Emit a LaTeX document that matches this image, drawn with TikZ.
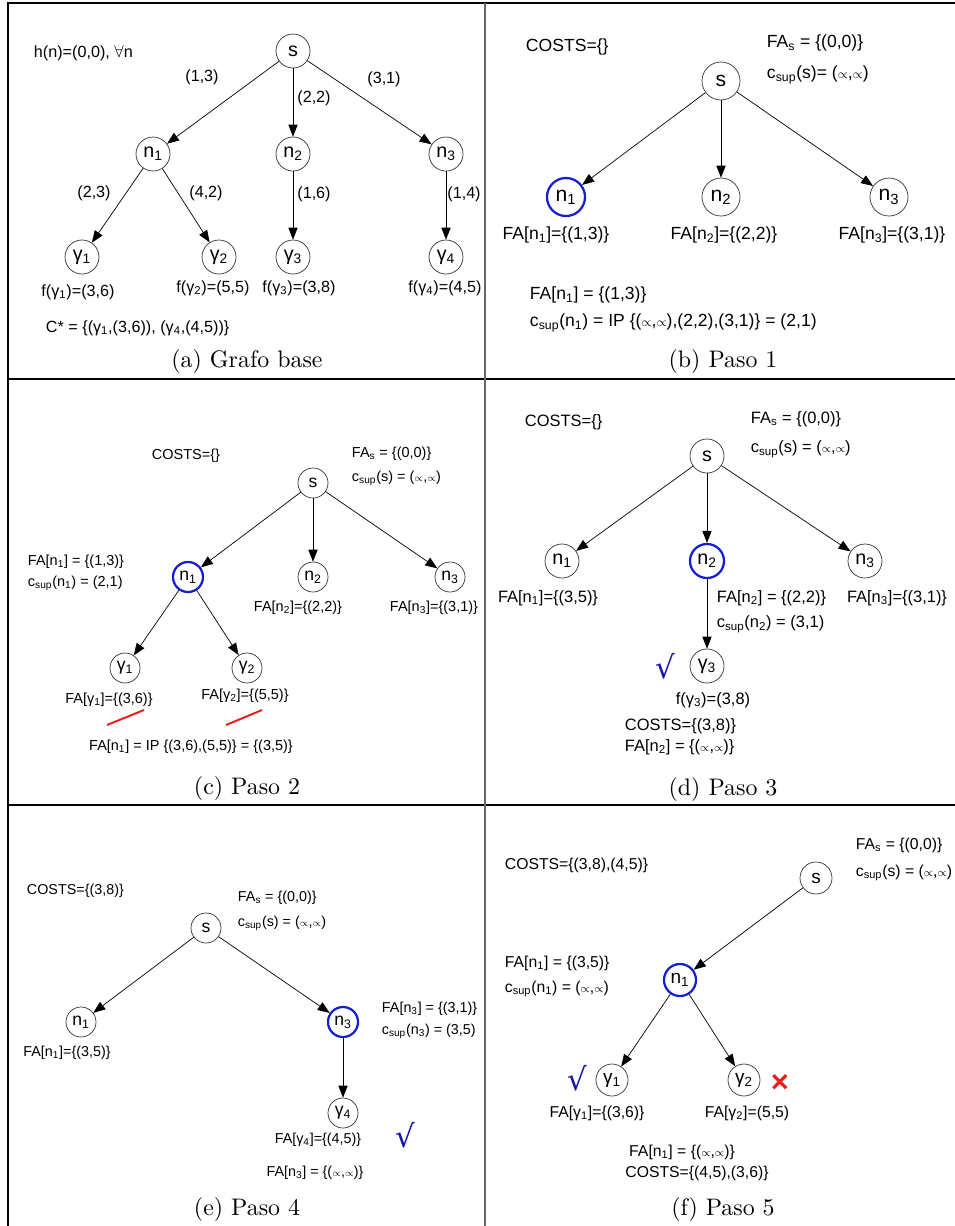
\documentclass[tikz,border=0pt]{standalone}
\usepackage{fontspec}
\usepackage{graphicx}
\usetikzlibrary{arrows.meta}
\newfontfamily\arial{Liberation Sans}
\newfontfamily\dejavu{DejaVu Sans}
\newcommand{\sub}[1]{\textsubscript{#1}}
\newcommand{\infpair}{($\scriptstyle\propto$,$\scriptstyle\propto$)}
\newcommand{\captext}[1]{\scalebox{1.7}{#1}}
\definecolor{selblue}{RGB}{20,30,210}
\definecolor{okblue}{RGB}{20,20,170}
\definecolor{badred}{RGB}{235,30,30}
\tikzset{
  vfont/.style={},
  vert/.style={circle,draw=black!80,line width=0.5pt,inner sep=0pt,minimum size=#1,vfont},
  vert/.default=8.5mm,
  cur/.style={vert=#1,draw=selblue,line width=1.6pt},
  cur/.default=8.5mm,
  arr/.style={-{Triangle[length=3mm,width=2.3mm]},line width=0.5pt},
  capt/.style={font=\fontsize{10}{12}\selectfont},
  ok/.style={text=okblue,font=\dejavu\fontsize{22}{22}\selectfont},
  grid/.style={line width=0.9pt}
}
\begin{document}
\begin{tikzpicture}[x=0.025cm,y=-0.025cm]
\useasboundingbox (0,0) rectangle (955,1226);
\draw[grid] (955,3) -- (8,3) -- (8,1226);
\draw[grid] (8,379) -- (955,379);
\draw[grid] (8,805) -- (955,805);
\draw[grid,black!60] (485,3) -- (485,1226);

\begin{scope}[font=\arial\fontsize{11.5}{14}\selectfont,vfont/.style={font=\arial\fontsize{14}{14}\selectfont}]
\node[vert] (a-s) at (293,51) {s};
\node[vert] (a-n1) at (153,154) {n\sub{1}};
\node[vert] (a-n2) at (293,154) {n\sub{2}};
\node[vert] (a-n3) at (446,154) {n\sub{3}};
\node[vert] (a-g1) at (82,257) {γ\sub{1}};
\node[vert] (a-g2) at (219,257) {γ\sub{2}};
\node[vert] (a-g3) at (293,257) {γ\sub{3}};
\node[vert] (a-g4) at (446,257) {γ\sub{4}};
\draw[arr] (a-s) -- (a-n1);
\draw[arr] (a-s) -- (a-n2);
\draw[arr] (a-s) -- (a-n3);
\draw[arr] (a-n1) -- (a-g1);
\draw[arr] (a-n1) -- (a-g2);
\draw[arr] (a-n2) -- (a-g3);
\draw[arr] (a-n3) -- (a-g4);
\node (a-w1) at (202,77) {(1,3)};
\node (a-w2) at (314,98) {(2,2)};
\node (a-w3) at (384,79) {(3,1)};
\node (a-w4) at (94,193) {(2,3)};
\node (a-w5) at (206,193) {(4,2)};
\node (a-w6) at (314,194) {(1,6)};
\node (a-w7) at (464,194) {(1,4)};
\node (a-f1) at (78,292) {f(γ\sub{1})=(3,6)};
\node (a-f2) at (213,288) {f(γ\sub{2})=(5,5)};
\node (a-f3) at (299,288) {f(γ\sub{3})=(3,8)};
\node (a-f4) at (445,288) {f(γ\sub{4})=(4,5)};
\node[anchor=west] (a-h) at (29,53) {h(n)=(0,0), $\forall$n};
\node[anchor=west] (a-opt) at (41,328) {C* = \{(γ\sub{1},(3,6)), (γ\sub{4},(4,5))\}};
\node[capt] (a-cap) at (247,362) {\captext{(a) Grafo base}};
\end{scope}

\begin{scope}[font=\arial\fontsize{12.5}{15}\selectfont,vfont/.style={font=\arial\fontsize{15}{15}\selectfont}]
\node[vert=9.5mm] (b-s) at (721,81) {s};
\node[cur=9.5mm] (b-n1) at (566,197) {n\sub{1}};
\node[vert=9.5mm] (b-n2) at (721,197) {n\sub{2}};
\node[vert=9.5mm] (b-n3) at (889,197) {n\sub{3}};
\draw[arr] (b-s) -- (b-n1);
\draw[arr] (b-s) -- (b-n2);
\draw[arr] (b-s) -- (b-n3);
\node[anchor=west] (b-costs) at (521,47) {COSTS=\{\}};
\node[anchor=west] (b-fas) at (762,43) {FA\sub{s} = \{(0,0)\}};
\node[anchor=west] (b-cs) at (762,75) {c\sub{sup}(s)= \infpair};
\node (b-fa1) at (556,235) {FA[n\sub{1}]=\{(1,3)\}};
\node (b-fa2) at (724,235) {FA[n\sub{2}]=\{(2,2)\}};
\node (b-fa3) at (892,235) {FA[n\sub{3}]=\{(3,1)\}};
\node[anchor=west] (b-x1) at (525,295) {FA[n\sub{1}] = \{(1,3)\}};
\node[anchor=west] (b-x2) at (525,323) {c\sub{sup}(n\sub{1}) = IP \{\infpair,(2,2),(3,1)\} = (2,1)};
\node[capt] (b-cap) at (723,362) {\captext{(b) Paso 1}};
\end{scope}

\begin{scope}[font=\arial\fontsize{10.3}{12}\selectfont,vfont/.style={font=\arial\fontsize{12.5}{12.5}\selectfont}]
\node[vert=7.5mm] (c-s) at (313,483) {s};
\node[cur=7.5mm] (c-n1) at (188,577) {n\sub{1}};
\node[vert=7.5mm] (c-n2) at (313,577) {n\sub{2}};
\node[vert=7.5mm] (c-n3) at (450,577) {n\sub{3}};
\node[vert=7.5mm] (c-g1) at (125,668) {γ\sub{1}};
\node[vert=7.5mm] (c-g2) at (247,668) {γ\sub{2}};
\draw[arr] (c-s) -- (c-n1);
\draw[arr] (c-s) -- (c-n2);
\draw[arr] (c-s) -- (c-n3);
\draw[arr] (c-n1) -- (c-g1);
\draw[arr] (c-n1) -- (c-g2);
\node (c-costs) at (186,456) {COSTS=\{\}};
\node[anchor=west] (c-fas) at (347,454) {FA\sub{s} = \{(0,0)\}};
\node[anchor=west] (c-cs) at (347,478) {c\sub{sup}(s) = \infpair};
\node[anchor=west] (c-x1) at (23,562) {FA[n\sub{1}] = \{(1,3)\}};
\node[anchor=west] (c-x2) at (23,583) {c\sub{sup}(n\sub{1}) = (2,1)};
\node (c-fa2) at (298,608) {FA[n\sub{2}]=\{(2,2)\}};
\node (c-fa3) at (434,608) {FA[n\sub{3}]=\{(3,1)\}};
\node (c-fg1) at (109,700) {FA[γ\sub{1}]=\{(3,6)\}};
\node (c-fg2) at (245,696) {FA[γ\sub{2}]=\{(5,5)\}};
\draw[badred,line width=1.4pt] (107,725) -- (144,710);
\draw[badred,line width=1.4pt] (226,725) -- (262,710);
\node (c-ip) at (191,747) {FA[n\sub{1}] = IP \{(3,6),(5,5)\} = \{(3,5)\}};
\node[capt] (c-cap) at (247,789) {\captext{(c) Paso 2}};
\end{scope}

\begin{scope}[font=\arial\fontsize{11.7}{14}\selectfont,vfont/.style={font=\arial\fontsize{14}{14}\selectfont}]
\node[vert] (d-s) at (707,456) {s};
\node[vert] (d-n1) at (562,561) {n\sub{1}};
\node[cur] (d-n2) at (707,561) {n\sub{2}};
\node[vert] (d-n3) at (865,561) {n\sub{3}};
\node[vert] (d-g3) at (707,666) {γ\sub{3}};
\draw[arr] (d-s) -- (d-n1);
\draw[arr] (d-s) -- (d-n2);
\draw[arr] (d-s) -- (d-n3);
\draw[arr] (d-n2) -- (d-g3);
\node[ok] (d-ok) at (665,666) {√};
\node[anchor=west] (d-costs) at (520,422) {COSTS=\{\}};
\node[anchor=west] (d-fas) at (746,419) {FA\sub{s} = \{(0,0)\}};
\node[anchor=west] (d-cs) at (746,449) {c\sub{sup}(s) = \infpair};
\node (d-fa1) at (548,598) {FA[n\sub{1}]=\{(3,5)\}};
\node[anchor=west] (d-x1) at (712,598) {FA[n\sub{2}] = \{(2,2)\}};
\node[anchor=west] (d-x2) at (712,624) {c\sub{sup}(n\sub{2}) = (3,1)};
\node (d-fa3) at (897,598) {FA[n\sub{3}]=\{(3,1)\}};
\node (d-f3) at (713,700) {f(γ\sub{3})=(3,8)};
\node[anchor=west] (d-y1) at (620,726) {COSTS=\{(3,8)\}};
\node[anchor=west] (d-y2) at (620,747) {FA[n\sub{2}] = \{\infpair\}};
\node[capt] (d-cap) at (723,790) {\captext{(d) Paso 3}};
\end{scope}

\begin{scope}[font=\arial\fontsize{10.2}{12}\selectfont,vfont/.style={font=\arial\fontsize{12.5}{12.5}\selectfont}]
\node[vert=7.5mm] (e-s) at (206,928) {s};
\node[vert=7.5mm] (e-n1) at (81,1022) {n\sub{1}};
\node[cur=7.5mm] (e-n3) at (343,1022) {n\sub{3}};
\node[vert=7.5mm] (e-g4) at (343,1113) {γ\sub{4}};
\draw[arr] (e-s) -- (e-n1);
\draw[arr] (e-s) -- (e-n3);
\draw[arr] (e-n3) -- (e-g4);
\node[anchor=west] (e-costs) at (22,891) {COSTS=\{(3,8)\}};
\node[anchor=west] (e-fas) at (233,898) {FA\sub{s} = \{(0,0)\}};
\node[anchor=west] (e-cs) at (233,923) {c\sub{sup}(s) = \infpair};
\node (e-fa1) at (67,1053) {FA[n\sub{1}]=\{(3,5)\}};
\node[anchor=west] (e-x1) at (377,1009) {FA[n\sub{3}] = \{(3,1)\}};
\node[anchor=west] (e-x2) at (377,1031) {c\sub{sup}(n\sub{3}) = (3,5)};
\node (e-fg4) at (318,1140) {FA[γ\sub{4}]=\{(4,5)\}};
\node[ok] (e-ok) at (405,1135) {√};
\node (e-y1) at (315,1173) {FA[n\sub{3}] = \{\infpair\}};
\node[capt] (e-cap) at (247,1210) {\captext{(e) Paso 4}};
\end{scope}

\begin{scope}[font=\arial\fontsize{11.2}{13}\selectfont,vfont/.style={font=\arial\fontsize{13.5}{13.5}\selectfont}]
\node[vert=8mm] (f-s) at (816,878) {s};
\node[cur=8mm] (f-n1) at (680,980) {n\sub{1}};
\node[vert=8mm] (f-g1) at (612,1080) {γ\sub{1}};
\node[vert=8mm] (f-g2) at (744,1080) {γ\sub{2}};
\draw[arr] (f-s) -- (f-n1);
\draw[arr] (f-n1) -- (f-g1);
\draw[arr] (f-n1) -- (f-g2);
\node[ok] (f-ok) at (577,1078) {√};
\node[text=badred,font=\arial\bfseries\fontsize{22}{22}\selectfont] (f-bad) at (780,1083) {×};
\node[anchor=west] (f-costs) at (500,865) {COSTS=\{(3,8),(4,5)\}};
\node[anchor=west] (f-fas) at (851,845) {FA\sub{s} = \{(0,0)\}};
\node[anchor=west] (f-cs) at (851,873) {c\sub{sup}(s) = \infpair};
\node[anchor=west] (f-x1) at (500,963) {FA[n\sub{1}] = \{(3,5)\}};
\node[anchor=west] (f-x2) at (500,989) {c\sub{sup}(n\sub{1}) = \infpair};
\node (f-fg1) at (597,1113) {FA[γ\sub{1}]=\{(3,6)\}};
\node (f-fg2) at (747,1113) {FA[γ\sub{2}]=(5,5)};
\node (f-y1) at (682,1152) {FA[n\sub{1}] = \{\infpair\}};
\node (f-y2) at (697,1173) {COSTS=\{(4,5),(3,6)\}};
\node[capt] (f-cap) at (723,1210) {\captext{(f) Paso 5}};
\end{scope}
\end{tikzpicture}
\end{document}
